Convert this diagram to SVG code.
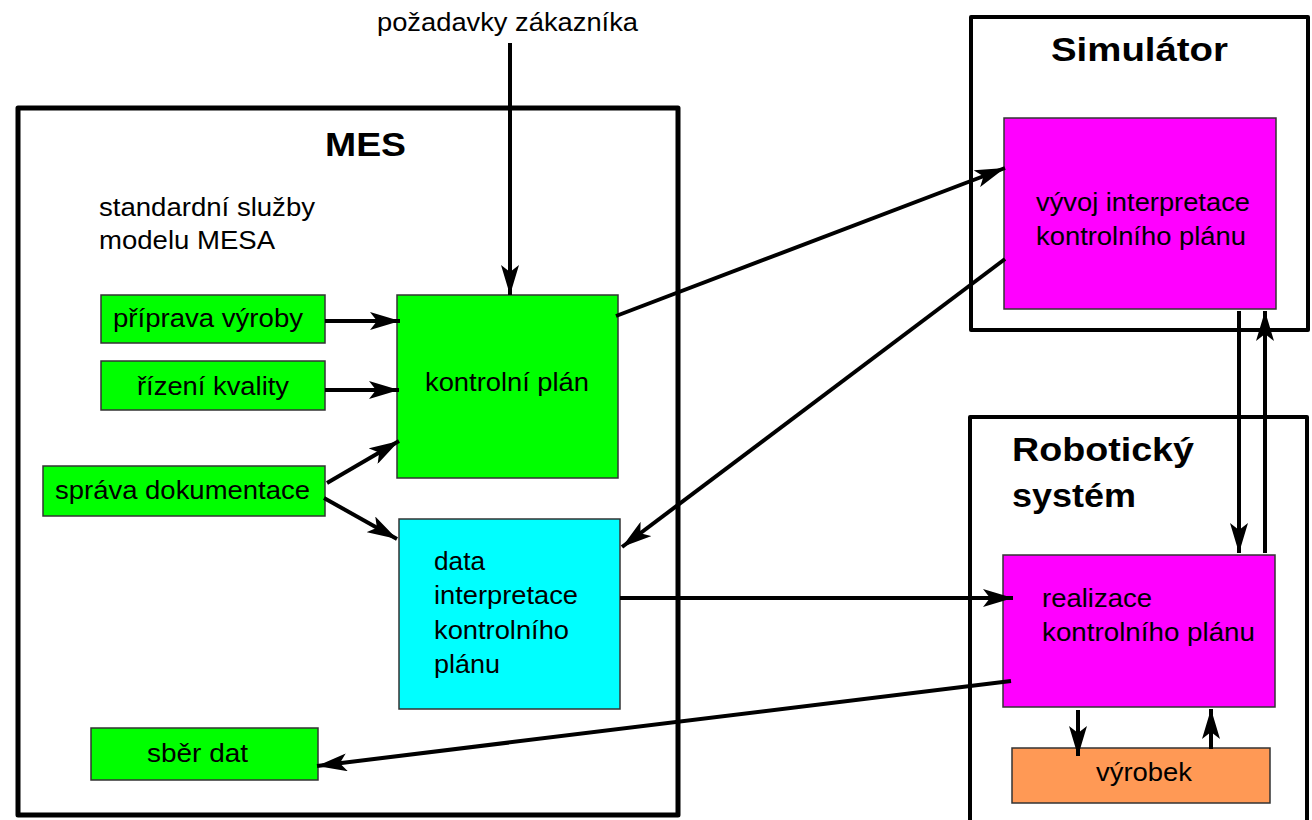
<svg xmlns="http://www.w3.org/2000/svg" width="1312" height="820" viewBox="0 0 1312 820">
  <defs>
    <marker id="arr" markerUnits="userSpaceOnUse" markerWidth="30" markerHeight="18" viewBox="0 0 30 18" refX="30" refY="9" orient="auto">
      <path d="M0,0 L30,9 L0,18 L7,9 z" fill="#000"/>
    </marker>
  </defs>
  <style>
    text { font-family: "Liberation Sans", Arial, sans-serif; fill: #000; }
    .lbl { font-size: 25px; }
    .ttl { font-size: 34px; font-weight: bold; }
    .frame { fill: #fff; stroke: #000; stroke-width: 4; stroke-linejoin: round; }
    .node { stroke: #333; stroke-width: 1.5; }
    .green { fill: #00ff00; }
    .cyan { fill: #00ffff; }
    .mag { fill: #ff00ff; }
    .orange { fill: #ff9955; }
    .conn line { stroke: #000; stroke-width: 4; marker-end: url(#arr); }
  </style>
  <rect width="1312" height="820" fill="#fff"/>

  <g id="mes">
    <rect class="frame" x="18" y="108" width="660" height="707" style="stroke-width:5"/>
    <text class="ttl" x="325" y="156" textLength="81" lengthAdjust="spacingAndGlyphs">MES</text>
    <text class="lbl" x="99" y="216" textLength="216" lengthAdjust="spacingAndGlyphs">standardní služby</text>
    <text class="lbl" x="99" y="249" textLength="176" lengthAdjust="spacingAndGlyphs">modelu MESA</text>
  </g>

  <g id="simulator">
    <rect class="frame" x="971" y="17" width="337" height="313"/>
    <text class="ttl" x="1051" y="61" textLength="177" lengthAdjust="spacingAndGlyphs">Simulátor</text>
  </g>

  <g id="robot">
    <rect class="frame" x="970" y="417" width="337" height="420"/>
    <text class="ttl" x="1012" y="461" textLength="182" lengthAdjust="spacingAndGlyphs">Robotický</text>
    <text class="ttl" x="1012" y="507" textLength="124" lengthAdjust="spacingAndGlyphs">systém</text>
  </g>

  <g id="pozadavky">
    <text class="lbl" x="377" y="31" textLength="261" lengthAdjust="spacingAndGlyphs">požadavky zákazníka</text>
  </g>

  <g id="priprava">
    <rect class="node green" x="101" y="295" width="224" height="48"/>
    <text class="lbl" x="113" y="327" textLength="190" lengthAdjust="spacingAndGlyphs">příprava výroby</text>
  </g>

  <g id="rizeni">
    <rect class="node green" x="101" y="361" width="224" height="49"/>
    <text class="lbl" x="137" y="395" textLength="152" lengthAdjust="spacingAndGlyphs">řízení kvality</text>
  </g>

  <g id="sprava">
    <rect class="node green" x="43" y="466" width="282" height="50"/>
    <text class="lbl" x="55" y="499" textLength="255" lengthAdjust="spacingAndGlyphs">správa dokumentace</text>
  </g>

  <g id="sber">
    <rect class="node green" x="91" y="728" width="227" height="52"/>
    <text class="lbl" x="147" y="762" textLength="101" lengthAdjust="spacingAndGlyphs">sběr dat</text>
  </g>

  <g id="kontrolni">
    <rect class="node green" x="397" y="295" width="221" height="183"/>
    <text class="lbl" x="425" y="391" textLength="164" lengthAdjust="spacingAndGlyphs">kontrolní plán</text>
  </g>

  <g id="data">
    <rect class="node cyan" x="399" y="519" width="221" height="190"/>
    <text class="lbl" x="434" y="570" textLength="51" lengthAdjust="spacingAndGlyphs">data</text>
    <text class="lbl" x="434" y="604" textLength="144" lengthAdjust="spacingAndGlyphs">interpretace</text>
    <text class="lbl" x="434" y="639" textLength="135" lengthAdjust="spacingAndGlyphs">kontrolního</text>
    <text class="lbl" x="434" y="673" textLength="66" lengthAdjust="spacingAndGlyphs">plánu</text>
  </g>

  <g id="vyvoj">
    <rect class="node mag" x="1004" y="118" width="272" height="191"/>
    <text class="lbl" x="1036" y="211" textLength="214" lengthAdjust="spacingAndGlyphs">vývoj interpretace</text>
    <text class="lbl" x="1036" y="245" textLength="210" lengthAdjust="spacingAndGlyphs">kontrolního plánu</text>
  </g>

  <g id="realizace">
    <rect class="node mag" x="1003" y="555" width="272" height="152"/>
    <text class="lbl" x="1042" y="607" textLength="110" lengthAdjust="spacingAndGlyphs">realizace</text>
    <text class="lbl" x="1042" y="641" textLength="213" lengthAdjust="spacingAndGlyphs">kontrolního plánu</text>
  </g>

  <g id="vyrobek">
    <rect class="node orange" x="1012" y="748" width="258" height="55"/>
    <text class="lbl" x="1096" y="781" textLength="96" lengthAdjust="spacingAndGlyphs">výrobek</text>
  </g>

  <g id="connectors" class="conn">
    <line x1="510" y1="43" x2="510" y2="295"/>
    <line x1="325" y1="321" x2="400" y2="321"/>
    <line x1="325" y1="390" x2="399" y2="390"/>
    <line x1="327" y1="483" x2="399" y2="441"/>
    <line x1="324" y1="498" x2="397" y2="539"/>
    <line x1="616" y1="316" x2="1005" y2="168"/>
    <line x1="1005" y1="259" x2="622" y2="547"/>
    <line x1="620" y1="598" x2="1013" y2="598"/>
    <line x1="1011" y1="681" x2="317" y2="766"/>
    <line x1="1239" y1="311" x2="1239" y2="553"/>
    <line x1="1265" y1="553" x2="1265" y2="311"/>
    <line x1="1078" y1="710" x2="1078" y2="756"/>
    <line x1="1211" y1="749" x2="1211" y2="709"/>
  </g>
</svg>
